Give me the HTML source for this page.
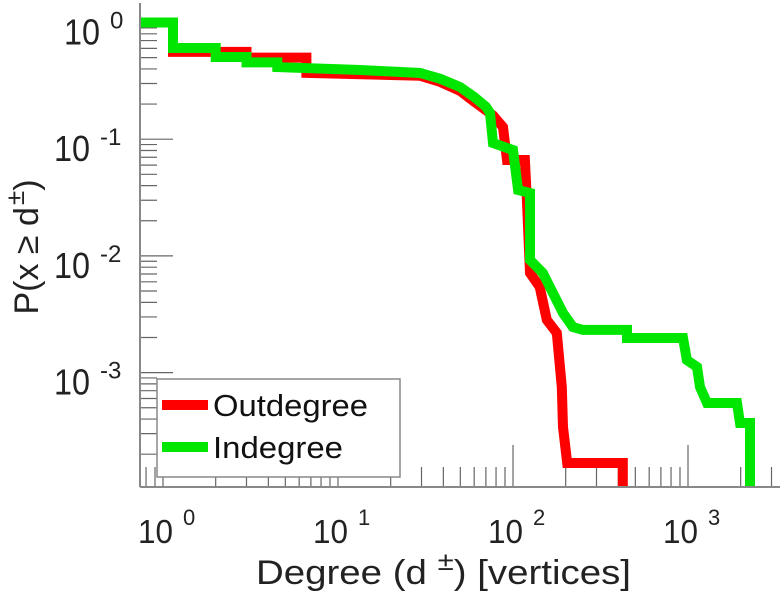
<!DOCTYPE html>
<html><head><meta charset="utf-8"><style>
body{margin:0;background:#fff;}
svg{display:block;font-family:"Liberation Sans",sans-serif;}
</style></head><body>
<svg id="chart" width="782" height="600" viewBox="0 0 782 600">
<g id="ticks"></g>
<g id="series"></g>
<g id="axes"></g>
<g id="labels"></g>
<text x="0" y="0" transform="translate(38,247) rotate(-90)" text-anchor="middle" font-size="34" fill="#222">P(x ≥ d<tspan dx="2" dy="-14" font-size="26">±</tspan><tspan dy="14">)</tspan></text>
<text x="256" y="584" font-size="34" fill="#222" textLength="375" lengthAdjust="spacingAndGlyphs">Degree (d   <tspan dy="-14" font-size="26">±</tspan><tspan dy="14">) [vertices]</tspan></text>
<g>
<rect x="157" y="379" width="243" height="98" fill="#fff" stroke="#888" stroke-width="1.5"/>
<line x1="162" y1="405" x2="208" y2="405" stroke="#ff0000" stroke-width="10"/>
<text x="213" y="416" font-size="31" fill="#111" textLength="155" lengthAdjust="spacingAndGlyphs">Outdegree</text>
<line x1="162" y1="447" x2="208" y2="447" stroke="#00e600" stroke-width="10"/>
<text x="213" y="458" font-size="31" fill="#111" textLength="130" lengthAdjust="spacingAndGlyphs">Indegree</text>
</g>
</svg>
<script>
const xTickExps = [0, 1, 2, 3];
const yTickExps = [0, -1, -2, -3];
const outDeg = [0.74, 1.14, 1.14, 3.0, 3.0, 6.6, 6.6, 29.4, 38.3, 49.8, 60, 76.9, 87.7, 92.4, 117, 120, 125, 142, 156, 178, 190, 193, 204, 424, 424];
const outP = [1, 1, 0.56, 0.56, 0.5, 0.5, 0.37, 0.35, 0.31, 0.26, 0.21, 0.16, 0.127, 0.0664, 0.0664, 0.0301, 0.00713, 0.00542, 0.00283, 0.00219, 0.000753, 0.000342, 0.000168, 0.000168, 0.000105];
const inDeg = [0.74, 1.14, 1.14, 2.0, 2.0, 3.0, 3.0, 4.5, 4.5, 13.4, 29.4, 38.3, 49.8, 60, 70, 73.9, 76.9, 100, 107, 125, 125, 148, 169, 193, 220, 251, 448, 448, 936, 986, 1125, 1171, 1284, 1905, 1982, 2261, 2261];
const inP = [1, 1, 0.605, 0.605, 0.506, 0.506, 0.455, 0.455, 0.415, 0.392, 0.369, 0.33, 0.28, 0.23, 0.19, 0.168, 0.0927, 0.0807, 0.0367, 0.0346, 0.00923, 0.00713, 0.00481, 0.00324, 0.00246, 0.00232, 0.00232, 0.00198, 0.00198, 0.00128, 0.00112, 0.000753, 0.000549, 0.000549, 0.00037, 0.00037, 0.000105];

const NS = "http://www.w3.org/2000/svg";
const X0 = 163, XD = 175, Y0 = 22.5, YD = 116.7;
const LEFT = 140, RIGHT = 780, TOP = 3, BOTTOM = 487;
function sx(v){ return X0 + Math.log10(v) * XD; }
function sy(v){ return Y0 - Math.log10(v) * YD; }
function mk(tag, attrs, parent){
  const e = document.createElementNS(NS, tag);
  for (const k in attrs) e.setAttribute(k, attrs[k]);
  parent.appendChild(e);
  return e;
}
const ticks = document.getElementById('ticks');
const axes = document.getElementById('axes');
const labels = document.getElementById('labels');
const series = document.getElementById('series');

for (let e = 0; e >= -4; e--) {
  for (let m = 1; m <= 9; m++) {
    const v = m * Math.pow(10, e);
    const y = sy(v);
    if (y < TOP || y > BOTTOM) continue;
    const len = m === 1 ? 33 : 17;
    const t = mk('line', {x1: LEFT, x2: LEFT + len, y1: y, y2: y, stroke: '#666', 'stroke-width': 1.2}, ticks);
    
    
  }
}
for (let e = -1; e <= 3; e++) {
  for (let m = 1; m <= 9; m++) {
    const v = m * Math.pow(10, e);
    const x = sx(v);
    if (x < LEFT || x > RIGHT) continue;
    const len = m === 1 ? 42 : 20;
    const t = mk('line', {x1: x, x2: x, y1: BOTTOM, y2: BOTTOM - len, stroke: '#666', 'stroke-width': 1.2}, ticks);
    
    
  }
}
function drawSeries(xs, ps, color, name){
  const pts = xs.map((x, i) => sx(x).toFixed(1) + ',' + sy(ps[i]).toFixed(1)).join(' ');
  const pl = mk('polyline', {points: pts, fill: 'none', stroke: color, 'stroke-width': 10, 'stroke-linejoin': 'miter'}, series);
  
  
}
drawSeries(outDeg, outP, '#ff0000', 'outdegree-line');
drawSeries(inDeg, inP, '#00e600', 'indegree-line');

const ya = mk('line', {x1: LEFT, x2: LEFT, y1: TOP, y2: BOTTOM, stroke: '#888', 'stroke-width': 2}, axes);


const xa = mk('line', {x1: LEFT, x2: RIGHT, y1: BOTTOM, y2: BOTTOM, stroke: '#888', 'stroke-width': 2}, axes);



xTickExps.forEach(e => {
  const x = sx(Math.pow(10, e));
  const t = mk('text', {x: x - 25, y: 543, 'font-size': 33, fill: '#222'}, labels);
  
  
  t.innerHTML = '<tspan textLength="35" lengthAdjust="spacingAndGlyphs">10</tspan><tspan dx="10" dy="-18" font-size="22">' + e + '</tspan>';
});
yTickExps.forEach(e => {
  const y = sy(Math.pow(10, e));
  const t = mk('text', {x: e === 0 ? 64 : 54, y: y + 22, 'font-size': 36, fill: '#222'}, labels);
  
  
  t.innerHTML = '<tspan textLength="36" lengthAdjust="spacingAndGlyphs">10</tspan><tspan dx="10" dy="-16" font-size="24">' + e + '</tspan>';
});
</script>
</body></html>
